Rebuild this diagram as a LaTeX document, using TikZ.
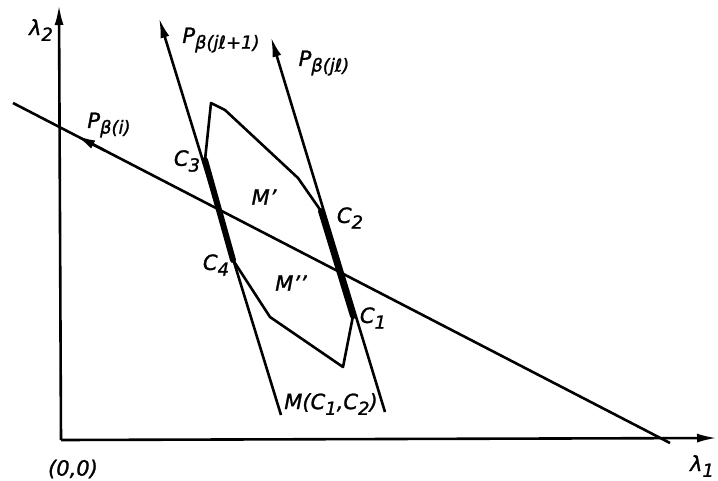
\documentclass[tikz,border=0pt]{standalone}
\usepackage{fontspec}
\setmainfont{DejaVu Sans}[ItalicFeatures={FakeBold=1.2}]
\usetikzlibrary{arrows.meta,calc}
\newcommand\lowtxt[1]{\raisebox{-0.5ex}{\fontsize{18}{18}\selectfont #1}}
\newcommand\sq{\char"0027\relax}
\begin{document}
\begin{tikzpicture}[x=1pt,y=-1pt,
  lbl/.style={font=\fontsize{21}{21}\selectfont\itshape,inner sep=0pt},
  thinline/.style={line width=2.6pt,line join=round},
  thickseg/.style={line width=6pt,line cap=round},
  tip/.style={-{Latex[length=20pt,width=9pt]}}]
\useasboundingbox (0,0) rectangle (718,480);
% axes
\coordinate (O) at (61,440);
\coordinate (Ytop) at (59,5);
\coordinate (Xend) at (717,438);
\draw[thinline,tip] (O) -- (Ytop);
\draw[thinline,tip] (O) -- (Xend);
% long line P_beta(i)
\coordinate (La) at (670,443);
\coordinate (Lb) at (13,103);
\draw[thinline] (La) -- (Lb);
\draw[thinline,tip] ($(La)!0.86!(Lb)$) -- ($(La)!0.905!(Lb)$);
% lines P_beta(jl+1), P_beta(jl)
\coordinate (Pa1) at (281,415);
\coordinate (Pa2) at (159,18);
\coordinate (Pb1) at (385,412);
\coordinate (Pb2) at (271,37);
\draw[thinline,tip] (Pa1) -- (Pa2);
\draw[thinline,tip] (Pb1) -- (Pb2);
% polygon
\coordinate (A) at (211,103);
\coordinate (B) at (225,110);
\coordinate (D) at (298,178);
\coordinate (C2) at (321,211);
\coordinate (C1) at (353,316);
\coordinate (E) at (343,367);
\coordinate (F) at (270,317);
\coordinate (C4) at (233,260);
\coordinate (C3) at (205,160);
\draw[thinline] (A) -- (B) -- (D) -- (C2) -- (C1) -- (E) -- (F) -- (C4) -- (C3) -- cycle;
\draw[thickseg] (C3) -- (C4);
\draw[thickseg] (C2) -- (C1);
% labels
\node[lbl] (l2) at (41,30) {λ\lowtxt{2}};
\node[lbl] (l1) at (702,466) {λ\lowtxt{1}};
\node[lbl] (org) at (73,469) {(0,0)};
\node[lbl] (pjl1) at (221,40) {P\lowtxt{β(jℓ+1)}};
\node[lbl] (pjl) at (324,63) {P\lowtxt{β(jℓ)}};
\node[lbl] (pi) at (109,125) {P\lowtxt{β(i)}};
\node[lbl] (c3) at (187,161) {C\lowtxt{3}};
\node[lbl] (c2) at (350,218) {C\lowtxt{2}};
\node[lbl] (c4) at (216,265) {C\lowtxt{4}};
\node[lbl] (c1) at (373,318) {C\lowtxt{1}};
\node[lbl] (m1) at (264,197) {M\sq};
\node[lbl] (m2) at (291,283) {M\sq\sq};
\node[lbl] (mc) at (331,404) {M(C\lowtxt{1},C\lowtxt{2})};
\end{tikzpicture}
\end{document}
